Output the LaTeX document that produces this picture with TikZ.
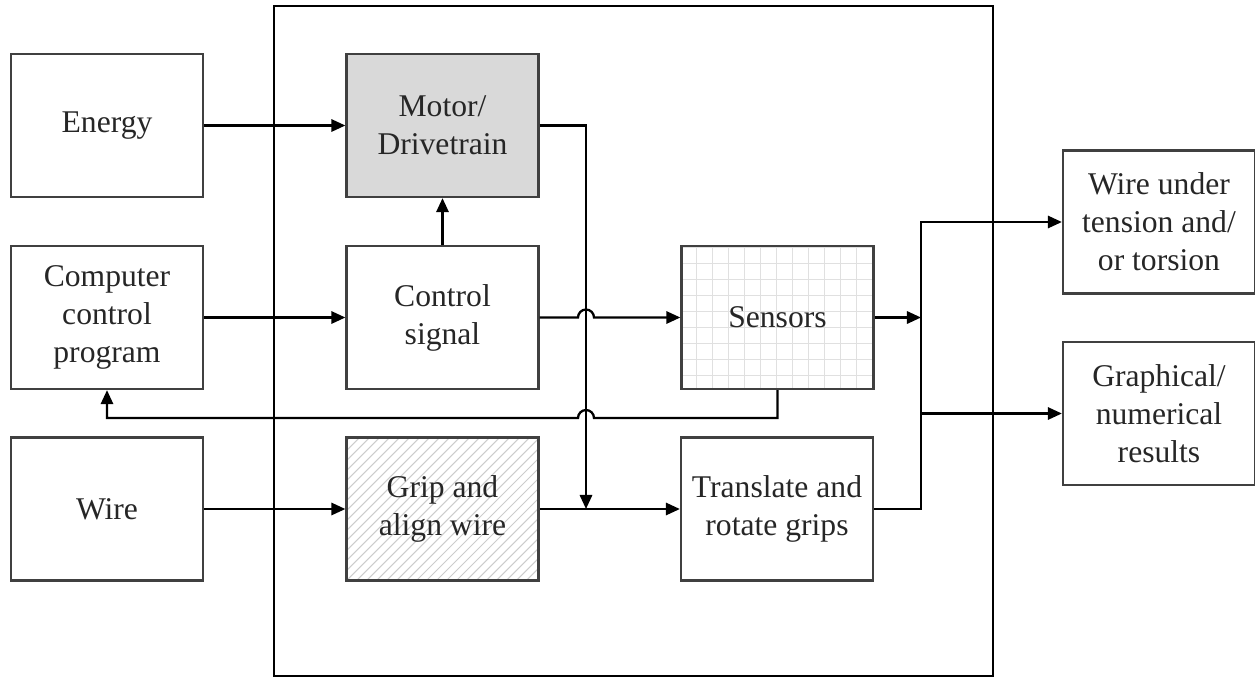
\documentclass[tikz,border=0pt]{standalone}
\usepackage{fontspec}
\setmainfont{Liberation Serif}
\usetikzlibrary{arrows.meta}

\begin{document}
\begin{tikzpicture}[x=0.02cm,y=-0.02cm,
  box/.style={draw=black!75,line width=1.3pt,minimum width=3.84cm,minimum height=2.86cm,
    align=center,inner sep=2pt,text=black!85,font=\fontsize{18}{21.6}\selectfont},
  arr/.style={line width=1.3pt,-{Triangle[length=8pt,width=7pt]}}]
\useasboundingbox (0,0) rectangle (1255,677);
\draw[line width=1.5pt] (274,6) rectangle (993,676);
\node[box] (energy) at (107,125.5) {Energy};
\node[box] (program) at (107,317.5) {Computer\\control\\program};
\node[box] (wire) at (107,509) {Wire};
\node[box,fill=black!15] (motor) at (442.5,125.5) {Motor/\\Drivetrain};
\node[box] (control) at (442.5,317.5) {Control\\signal};
\node[box,path picture={\foreach \k in {-16,...,20}
    \draw[black!20,line width=0.6pt] ([xshift=\k*0.2cm]path picture bounding box.south west) -- ++(4cm,4cm);}]
  (grip) at (442.5,509) {Grip and\\align wire};
\node[box,path picture={\draw[black!12,line width=0.7pt,step=0.32cm]
    (path picture bounding box.south west) grid (path picture bounding box.north east);}]
  (sensors) at (777.5,317.5) {Sensors};
\node[box] (move) at (777,509) {Translate and\\rotate grips};
\node[box] (tension) at (1159,222) {Wire under\\tension and/\\or torsion};
\node[box] (results) at (1159,413.5) {Graphical/\\numerical\\results};
\coordinate (drop) at (586,509);
\coordinate (cross1) at (586,317.5);
\coordinate (cross2) at (586,418);
\coordinate (bustop) at (921,222);
\coordinate (busmid) at (921,317.5);
\draw[arr] (energy) -- (motor);
\draw[arr] (program) -- (control);
\draw[arr] (wire) -- (grip);
\draw[arr] (grip) -- (move);
\draw[arr] (control) -- (motor);
\draw[arr] (motor.east) -| (drop);
\draw[arr] (control.east) -- ([xshift=-0.16cm]cross1) arc[start angle=180,end angle=0,radius=0.16cm] -- (sensors.west);
\draw[arr] (sensors.south) |- ([xshift=0.16cm]cross2) arc[start angle=0,end angle=180,radius=0.16cm] -| (program.south);
\draw[arr] (sensors) -- (busmid);
\draw[arr] (move.east) -| (bustop) -- (tension.west);
\draw[arr] (results.west -| bustop) -- (results.west);
\end{tikzpicture}
\end{document}
